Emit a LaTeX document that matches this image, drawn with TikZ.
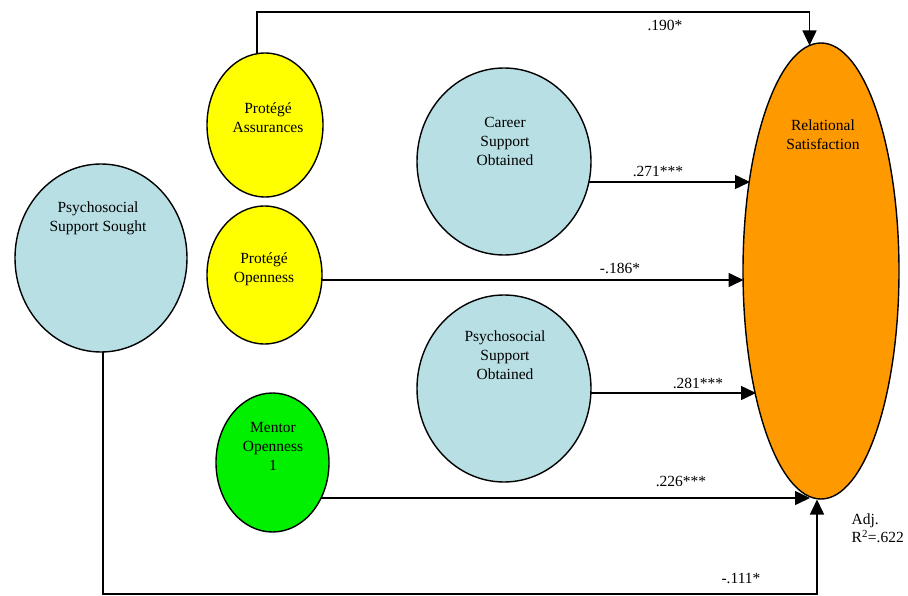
\documentclass[tikz,border=0pt]{standalone}
\usepackage{fontspec}
\setmainfont{Liberation Serif}
\usetikzlibrary{arrows.meta,shapes.geometric,backgrounds}
\definecolor{lblue}{RGB}{184,223,228}
\definecolor{yel}{RGB}{255,255,0}
\definecolor{grn}{RGB}{0,240,0}
\definecolor{org}{RGB}{255,153,0}
\begin{document}
\begin{tikzpicture}[x=1pt,y=-1pt,
  oval/.style={ellipse,draw=black,line width=1.4pt,inner sep=0pt},
  lbl/.style={font=\fontsize{15.5}{19}\selectfont,align=center,inner sep=0pt},
  conn/.style={line width=1.5pt,-{Triangle[length=15pt,width=14pt]}},
  elab/.style={font=\fontsize{15.5}{18}\selectfont,inner sep=0pt,anchor=base}]
\useasboundingbox (0,0) rectangle (908,596);
% ellipses
\node[oval,fill=lblue,minimum width=172pt,minimum height=188pt] (pss) at (101,258) {};
\node[oval,fill=yel,minimum width=116pt,minimum height=144pt] (pa) at (265,125) {};
\node[oval,fill=yel,minimum width=115pt,minimum height=138pt] (po) at (264.5,275) {};
\node[oval,fill=grn,minimum width=113pt,minimum height=139pt] (mo) at (272.5,462.5) {};
\node[oval,fill=lblue,minimum width=174pt,minimum height=187pt] (cso) at (504,161.5) {};
\node[oval,fill=lblue,minimum width=174pt,minimum height=187pt] (pso) at (504,388.5) {};
\node[oval,fill=org,minimum width=156pt,minimum height=456pt] (rs) at (821,271) {};
% texts
\node[lbl] (tpss) at (98,218) {Psychosocial\\Support Sought};
\node[lbl] (tpa) at (268,117.5) {Protégé\\Assurances};
\node[lbl] (tpo) at (264,269.5) {Protégé\\Openness};
\node[lbl] (tmo) at (273,446.5) {Mentor\\Openness\\1};
\node[lbl] (tcso) at (505,141.5) {Career\\Support\\Obtained};
\node[lbl] (tpso) at (505,355.5) {Psychosocial\\Support\\Obtained};
\node[lbl] (trs) at (823,135) {Relational\\Satisfaction};
% tip coordinates
\coordinate (t0) at (809.5,45.5);
\coordinate (t1) at (750,182);
\coordinate (t2) at (743.5,280);
\coordinate (t3) at (756,393);
\coordinate (t4) at (810,498);
\coordinate (t5) at (817,499.5);
\coordinate (c0) at (257,12);
\coordinate (c5) at (103,594);
% connectors
\begin{scope}[on background layer]
\draw[conn] (c0 |- pa) -- (c0) -| (t0);
\draw[conn] (cso |- t1) -- (t1);
\draw[conn] (po |- t2) -- (t2);
\draw[conn] (pso |- t3) -- (t3);
\draw[conn] (mo |- t4) -- (t4);
\draw[conn] (c5 |- pss) -- (c5) -| (t5);
\end{scope}
% edge labels
\node[elab] (l0) at (665,31) {.190*};
\node[elab] (l1) at (658,176.5) {.271***};
\node[elab] (l2) at (620,274) {-.186*};
\node[elab] (l3) at (698,388) {.281***};
\node[elab] (l4) at (681,486) {.226***};
\node[elab] (l5) at (741,583) {-.111*};
\node[font=\fontsize{15.5}{18}\selectfont,align=left,inner sep=0pt,anchor=north west] (r2) at (851.5,514) {Adj.\\R\textsuperscript{2}=.622};
\end{tikzpicture}
\end{document}
